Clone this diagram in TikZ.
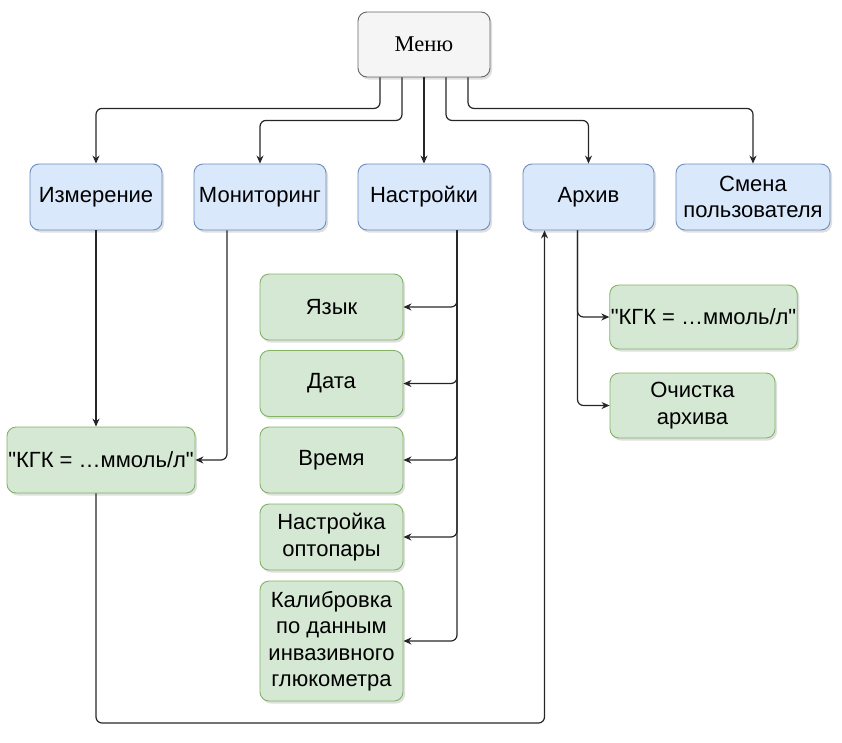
\documentclass[tikz,border=0pt]{standalone}
\usepackage{fontspec}
\setmainfont{Liberation Serif}
\newfontfamily\lsans{Liberation Sans}
\usetikzlibrary{arrows.meta,shadows}
\definecolor{menufill}{HTML}{F5F5F5}\definecolor{menuline}{HTML}{666666}
\definecolor{bluefill}{HTML}{DAE8FC}\definecolor{blueline}{HTML}{6C8EBF}
\definecolor{greenfill}{HTML}{D5E8D4}\definecolor{greenline}{HTML}{82B366}
\tikzset{
  box/.style={rounded corners=9pt,line width=0.9pt,align=center,inner sep=1pt,
    drop shadow={shadow xshift=2pt,shadow yshift=-2.5pt,opacity=0.25},
    font=\lsans\fontsize{22}{26.5}\selectfont},
  menubox/.style={box,fill=menufill,draw=menuline,minimum width=132pt,minimum height=65pt,font=\fontsize{22.5}{26}\selectfont},
  bluebox/.style={box,fill=bluefill,draw=blueline,minimum height=66pt},
  greenbox/.style={box,fill=greenfill,draw=greenline,minimum height=66pt},
  arr/.style={-{Stealth[length=8pt,width=7pt]},line width=1.2pt,black!85,rounded corners=6pt}
}
\begin{document}
\begin{tikzpicture}[x=1pt,y=-1pt]
\useasboundingbox (0,0) rectangle (842,742);
% top
\node[menubox] (menu) at (424,44.5) {Меню};
\node[bluebox,minimum width=132pt] (izm) at (96,197) {Измерение};
\node[bluebox,minimum width=132pt] (mon) at (260,197) {Мониторинг};
\node[bluebox,minimum width=132pt] (nast) at (424,197) {Настройки};
\node[bluebox,minimum width=131pt] (arch) at (588.5,197) {Архив};
\node[bluebox,minimum width=154pt] (smena) at (753,197) {Смена\\пользователя};
% settings
\foreach \n/\y/\t in {yaz/307/Язык,data/383.5/Дата,vremya/460/Время,opto/537/{Настройка\\оптопары}}
  \node[greenbox,minimum width=143pt] (\n) at (331.5,\y) {\t};
\node[greenbox,minimum width=143pt,minimum height=120pt] (kalib) at (331.5,641) {Калибровка\\по данным\\инвазивного\\глюкометра};
% results
\node[greenbox,minimum width=188pt] (kgkA) at (101,460) {"КГК = \dots ммоль/л"};
\node[greenbox,minimum width=187pt,minimum height=64pt] (kgkB) at (703.5,317) {"КГК = \dots ммоль/л"};
\node[greenbox,minimum width=165pt,minimum height=65pt] (ochist) at (692.5,405.5) {Очистка\\архива};
% menu links
\draw[arr] ([xshift=-44pt]menu.south) -- ++(0,31) -| (izm.north);
\draw[arr] ([xshift=-22pt]menu.south) -- ++(0,43) -| (mon.north);
\draw[arr] (menu.south) -- (nast.north);
\draw[arr] ([xshift=22pt]menu.south) -- ++(0,43) -| (arch.north);
\draw[arr] ([xshift=44pt]menu.south) -- ++(0,31) -| (smena.north);
\foreach \c in {yaz,data,vremya,opto,kalib}
  \draw[arr] ([xshift=33pt]nast.south) |- (\c.east);
\draw[arr] (izm.south) -- (izm.south |- kgkA.north);
\draw[arr] ([xshift=-33pt]mon.south) |- (kgkA.east);
\coordinate (back) at ([xshift=-44pt]arch.south |- 0,723);
\draw[arr] (izm.south |- kgkA.south) |- (back) -- ([xshift=-44pt]arch.south);
\draw[arr] ([xshift=-11pt]arch.south) |- (kgkB.west);
\draw[arr] ([xshift=-11pt]arch.south) |- (ochist.west);
\end{tikzpicture}
\end{document}
